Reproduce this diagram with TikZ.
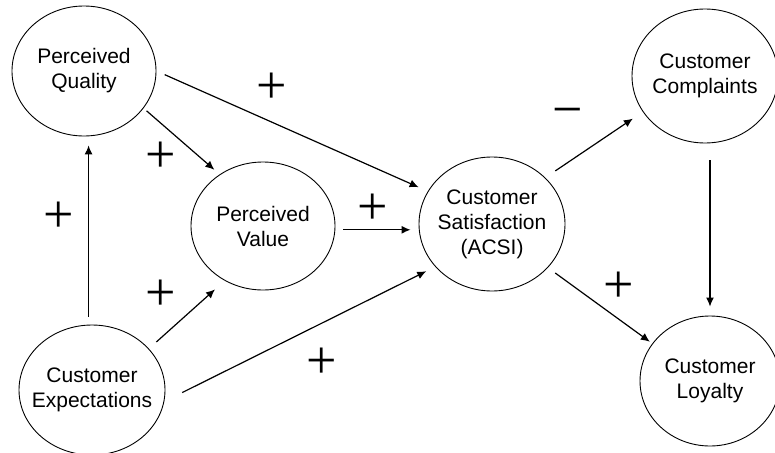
\documentclass[tikz,border=0pt]{standalone}
\usepackage{fontspec}
\setmainfont{Liberation Sans}
\newfontfamily\signefont{Liberation Serif}
\usepackage{tikz}
\usetikzlibrary{shapes,arrows.meta}

\begin{document}
\begin{tikzpicture}[x=1pt,y=-1pt]
		\tikzstyle{latent}=[draw,ellipse,line width=0.9pt,inner sep=-20pt,align=center,font=\fontsize{21}{25}\selectfont]
		\tikzstyle{signe}=[inner sep=0pt,font=\signefont\fontsize{54}{54}\selectfont]
		\tikzstyle{fleche}=[-{Latex[length=9pt,width=8pt]},line width=1.2pt]
		\useasboundingbox (0,0) rectangle (775,452);
		\node[latent,minimum width=144pt,minimum height=130pt] (PQ) at (84,71){Perceived\\Quality};
		\node[latent,minimum width=144pt,minimum height=128pt] (PV) at (263,226){Perceived\\Value};
		\node[latent,minimum width=146pt,minimum height=130pt] (CE) at (92,390){Customer\\Expectations};
		\node[latent,minimum width=146pt,minimum height=134pt] (ACSI) at (492,224){Customer\\Satisfaction\\(ACSI)};
		\node[latent,minimum width=146pt,minimum height=134pt] (CC) at (705,76){Customer\\Complaints};
		\node[latent,minimum width=140pt,minimum height=130pt] (CL) at (710,381){Customer\\Loyalty};
		
		\node[signe] (pA) at (272,88){+};
		\node[signe] (pB) at (161,157){+};
		\node[signe] (pC) at (59,217){+};
		\node[signe] (pD) at (161,295){+};
		\node[signe] (pE) at (373,209){+};
		\node[signe] (pF) at (322,363){+};
		\node[signe] (pG) at (619,287){+};
		\node[signe] (mA) at (568,118){−};
		
		\draw[fleche,shorten <=9pt,shorten >=10pt] (PQ.0) -- (ACSI.153);
		\draw[fleche,shorten <=4pt,shorten >=7pt] (PQ.-32) -- (PV.130);
		\draw[fleche,shorten <=8pt,shorten >=9pt] (CE.93) -- (CE.93 |- PQ.south);
		\draw[fleche,shorten <=10pt,shorten >=13pt] (CE.36) -- (PV.-125);
		\draw[fleche,shorten <=20pt,shorten >=10pt] (CE.-9) -- (ACSI.-143);
		\draw[fleche,shorten <=8pt,shorten >=8pt] (PV.-3) -- (PV.-3 -| ACSI.west);
		\draw[fleche,shorten <=12pt,shorten >=12pt] (ACSI.41) -- (CC.-150);
		\draw[fleche,shorten <=9pt,shorten >=3pt] (ACSI.-38) -- (CL.147);
		\draw[fleche,shorten <=17pt,shorten >=9pt] (CC.south -| CL.north) -- (CL.north);
		
	\end{tikzpicture}
\end{document}
